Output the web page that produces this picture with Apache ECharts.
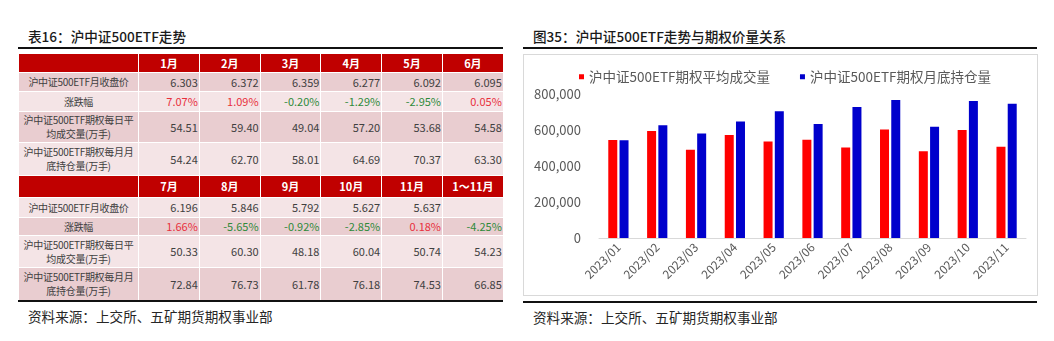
<!DOCTYPE html>
<html>
<head>
<meta charset="utf-8">
<script src="https://cdn.jsdelivr.net/npm/echarts@6/dist/echarts.min.js"></script>
<style>
  html, body { margin: 0; padding: 0; background: #fff; }
  body { width: 1054px; height: 341px; position: relative; overflow: hidden;
         font-family: "Noto Sans CJK SC", "Noto Sans", sans-serif; }
  .title { position: absolute; font-size: 13.6px; color: #1a1a1a; font-weight: 500; line-height: 16px; white-space: nowrap; }
  .src { position: absolute; font-size: 13.6px; color: #262626; line-height: 16px; white-space: nowrap; }
  .rule { position: absolute; height: 2px; background: #111; }
  #tbl { position: absolute; left: 18px; top: 53px; width: 485px; border-collapse: collapse; table-layout: fixed; }
  #tbl td { border: 1px solid #fff; padding: 0 1px 0 0; font-size: 11px; color: #404040; text-align: right; line-height: 13px; overflow: hidden; white-space: nowrap; }
  #tbl td.lab { text-align: center; padding: 0; font-size: 10px; letter-spacing: -0.3px; line-height: 14px; }
  #tbl tr.hd td { background: #c00000; color: #fff; text-align: center; font-weight: bold; padding: 0; font-size: 11px; }
  #tbl tr.dk td { background: #e9cdd0; }
  #tbl tr.lt td { background: #f4e4e6; }
  .up { color: #e8303c !important; }
  .dn { color: #2f8a3a !important; }
  #chartBox { position: absolute; left: 523px; top: 54px; width: 513px; height: 240px; border: 1px solid #d9d9d9; }
</style>
</head>
<body>
<div class="title" style="left:28px; top:28px;">表16：沪中证500ETF走势</div>
<div class="rule" style="left:18px; top:47px; width:485px;"></div>
<table id="tbl"></table>
<div class="rule" style="left:18px; top:300px; width:485px;"></div>
<div class="src" style="left:28px; top:308px;">资料来源：上交所、五矿期货期权事业部</div>

<div class="title" style="left:533px; top:28px;">图35：沪中证500ETF走势与期权价量关系</div>
<div class="rule" style="left:523px; top:47px; width:514px;"></div>
<div id="chartBox"></div>
<div class="rule" style="left:523px; top:301px; width:514px;"></div>
<div class="src" style="left:533px; top:309px;">资料来源：上交所、五矿期货期权事业部</div>

<script>
// ---- Table data ----
var rowLabels = ["沪中证500ETF月收盘价", "涨跌幅", "沪中证500ETF期权每日平<br>均成交量(万手)", "沪中证500ETF期权每月月<br>底持仓量(万手)"];
var monthsA = ["1月", "2月", "3月", "4月", "5月", "6月"];
var monthsB = ["7月", "8月", "9月", "10月", "11月", "1～11月"];
var closeA = ["6.303", "6.372", "6.359", "6.277", "6.092", "6.095"];
var closeB = ["6.196", "5.846", "5.792", "5.627", "5.637", ""];
var changeA = ["7.07%", "1.09%", "-0.20%", "-1.29%", "-2.95%", "0.05%"];
var changeB = ["1.66%", "-5.65%", "-0.92%", "-2.85%", "0.18%", "-4.25%"];
var volA = ["54.51", "59.40", "49.04", "57.20", "53.68", "54.58"];
var volB = ["50.33", "60.30", "48.18", "60.04", "50.74", "54.23"];
var oiA = ["54.24", "62.70", "58.01", "64.69", "70.37", "63.30"];
var oiB = ["72.84", "76.73", "61.78", "76.18", "74.53", "66.85"];

// ---- Chart data ----
var categories = ["2023/01", "2023/02", "2023/03", "2023/04", "2023/05", "2023/06", "2023/07", "2023/08", "2023/09", "2023/10", "2023/11"];
var avgVolume = [545100, 594000, 490400, 572000, 536800, 545800, 503300, 603000, 481800, 600400, 507400];
var monthEndOI = [542400, 627000, 580100, 646900, 703700, 633000, 728400, 767300, 617800, 761800, 745300];
var seriesNames = ["沪中证500ETF期权平均成交量", "沪中证500ETF期权月底持仓量"];
var yTicks = [0, 200000, 400000, 600000, 800000];

function cells(arr, isChange) {
  return arr.map(function (v) {
    var cls = "";
    if (isChange && v) cls = v.charAt(0) === "-" ? ' class="dn"' : ' class="up"';
    return "<td" + cls + ">" + v + "</td>";
  }).join("");
}
function block(months, close, change, vol, oi, styles, heights) {
  var h = '<tr class="hd" style="height:' + heights[0] + 'px"><td></td>' + months.map(function (m) { return "<td>" + m + "</td>"; }).join("") + "</tr>";
  var rows = [close, change, vol, oi];
  rows.forEach(function (r, i) {
    h += '<tr class="' + styles[i] + '" style="height:' + heights[i + 1] + 'px"><td class="lab">' + rowLabels[i] + "</td>" + cells(r, i === 1) + "</tr>";
  });
  return h;
}
var html = '<colgroup><col style="width:120px">' + '<col style="width:60.8px">'.repeat(6) + '</colgroup>';
html += block(monthsA, closeA, changeA, volA, oiA, ["dk", "lt", "dk", "lt"], [19, 19, 20, 31, 33]);
html += block(monthsB, closeB, changeB, volB, oiB, ["lt", "dk", "lt", "dk"], [22, 20, 18, 32, 33]);
document.getElementById("tbl").innerHTML = html;

// ---- Chart ----
var chart = echarts.init(document.getElementById("chartBox"), null, { renderer: "canvas" });
var fontFam = '"Noto Sans CJK SC", "Noto Sans", sans-serif';
chart.setOption({
  animation: false,
  textStyle: { fontFamily: fontFam },
  legend: {
    top: 10, left: 50, itemWidth: 5, itemHeight: 5, itemGap: 30,
    icon: "rect",
    textStyle: { fontSize: 13.5, color: "#595959", fontFamily: fontFam },
    data: seriesNames
  },
  grid: { left: 75, right: 11, top: 39, bottom: 57, containLabel: false },
  xAxis: {
    type: "category", data: categories,
    axisLine: { lineStyle: { color: "#d9d9d9", width: 1 } },
    axisTick: { show: false },
    axisLabel: { rotate: 45, fontSize: 12, color: "#595959", margin: 7, interval: 0, fontFamily: fontFam }
  },
  yAxis: {
    type: "value", min: yTicks[0], max: yTicks[yTicks.length - 1], interval: 200000,
    axisLine: { show: false }, axisTick: { show: false }, splitLine: { show: false },
    axisLabel: {
      fontSize: 13, color: "#595959", margin: 18, fontFamily: fontFam,
      formatter: function (v) { return String(v).replace(/\B(?=(\d{3})+(?!\d))/g, ","); }
    }
  },
  series: [
    { name: seriesNames[0], type: "bar", data: avgVolume, barWidth: 9, barGap: "25%", itemStyle: { color: "#ff0000" } },
    { name: seriesNames[1], type: "bar", data: monthEndOI, barWidth: 9, itemStyle: { color: "#0000cc" } }
  ]
});
</script>
</body>
</html>
